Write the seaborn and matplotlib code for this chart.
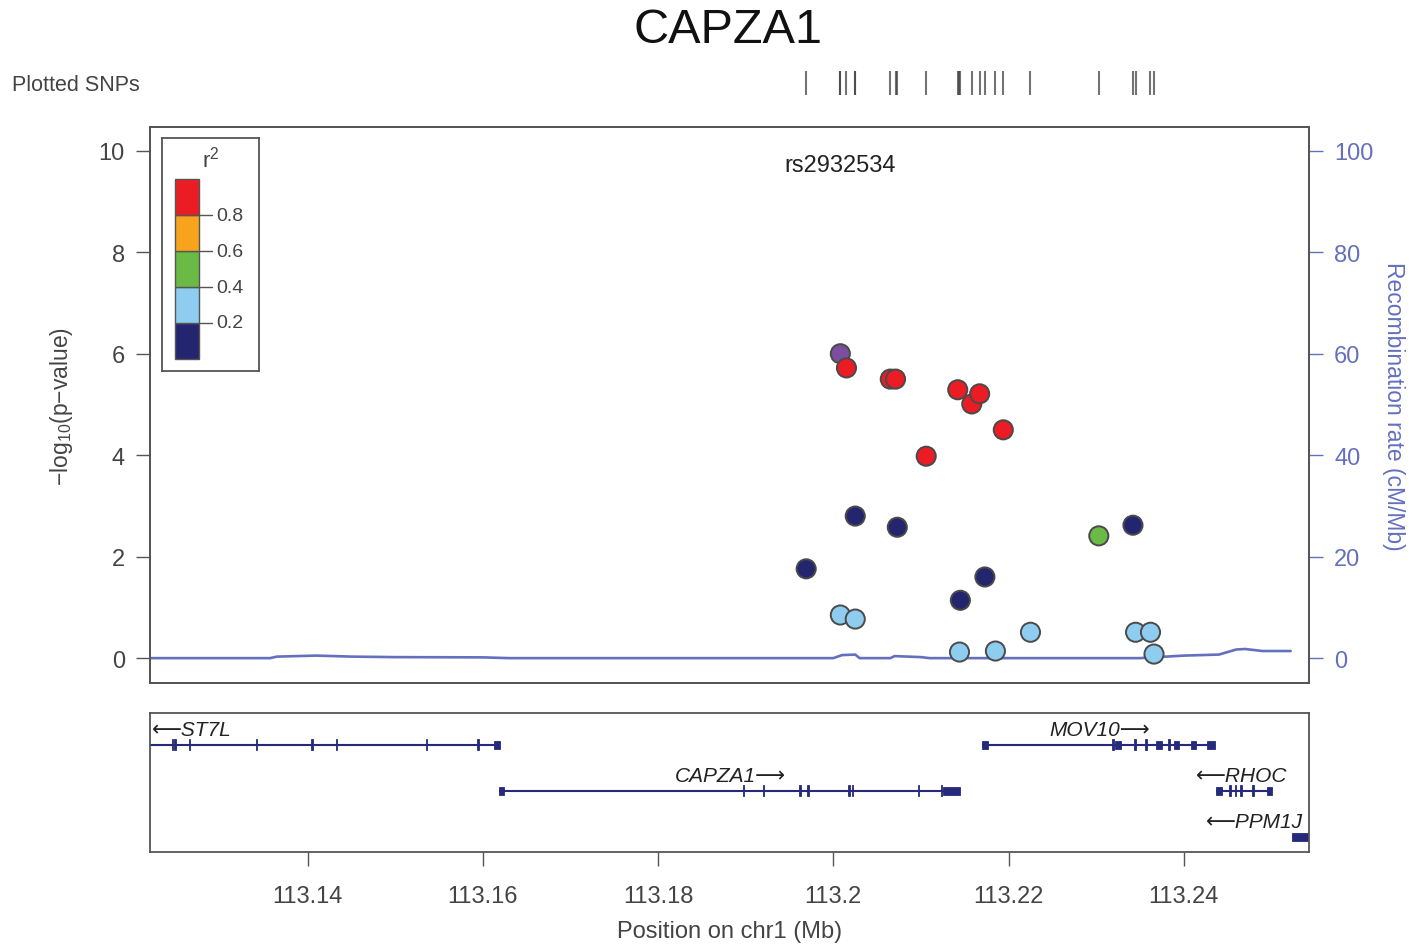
import numpy as np
import pandas as pd
import matplotlib
matplotlib.use("Agg")
import matplotlib.pyplot as plt
from matplotlib.patches import Rectangle
import seaborn as sns

sns.set_theme(style="white")
plt.rcParams['font.family'] = ['Liberation Sans', 'DejaVu Sans']
plt.rcParams['mathtext.fontset'] = 'custom'
plt.rcParams['mathtext.rm'] = 'Liberation Sans'
plt.rcParams['mathtext.it'] = 'Liberation Sans:italic'

# ---------------- data ----------------
snp_pos = [113.2008, 113.2015, 113.2065, 113.2071, 113.2142, 113.2158, 113.2167,
           113.2194, 113.2106, 113.2025, 113.2073, 113.1969, 113.2173, 113.2145,
           113.2342, 113.2303, 113.2008, 113.2025, 113.2144, 113.2185, 113.2225,
           113.2345, 113.2362, 113.2366]
snp_logp = [6.00, 5.72, 5.50, 5.50, 5.29, 5.01, 5.21,
            4.50, 3.98, 2.80, 2.58, 1.76, 1.60, 1.14,
            2.62, 2.41, 0.85, 0.77, 0.12, 0.14, 0.51,
            0.51, 0.51, 0.08]
snp_r2 = ["lead", "0.8-1", "0.8-1", "0.8-1", "0.8-1", "0.8-1", "0.8-1",
          "0.8-1", "0.8-1", "0-0.2", "0-0.2", "0-0.2", "0-0.2", "0-0.2",
          "0-0.2", "0.4-0.6", "0.2-0.4", "0.2-0.4", "0.2-0.4", "0.2-0.4", "0.2-0.4",
          "0.2-0.4", "0.2-0.4", "0.2-0.4"]
lead_snp = "rs2932534"

recomb_pos = [113.1220, 113.1357, 113.1365, 113.1410, 113.1450, 113.1500, 113.1600,
              113.1630, 113.2000, 113.2010, 113.2025, 113.2030, 113.2065, 113.2070,
              113.2100, 113.2110, 113.2350, 113.2370, 113.2400, 113.2440, 113.2460,
              113.2470, 113.2490, 113.2522]
recomb_rate = [0.0, 0.0, 0.3, 0.5, 0.3, 0.2, 0.15,
               0.0, 0.0, 0.6, 0.7, 0.0, 0.0, 0.4,
               0.2, 0.0, 0.0, 0.2, 0.5, 0.7, 1.7,
               1.8, 1.4, 1.4]

ld_bins = [0.0, 0.2, 0.4, 0.6, 0.8, 1.0]
ld_labels = ["0-0.2", "0.2-0.4", "0.4-0.6", "0.6-0.8", "0.8-1"]
ld_colors = ["#23266F", "#8ECDF0", "#6BBA45", "#F7A41C", "#EC1C24"]
lead_color = "#7C4E9F"

gene_names = ["ST7L", "CAPZA1", "MOV10", "RHOC", "PPM1J"]
gene_strand = ["-", "+", "+", "-", "-"]
gene_row = [0, 1, 0, 1, 2]
gene_start = [113.1000, 113.1618, 113.2170, 113.2437, 113.2523]
gene_end = [113.1620, 113.2145, 113.2436, 113.2501, 113.2600]
gene_label_x = [113.1222, 113.1883, 113.2304, 113.2466, 113.2536]
gene_exons = [
    [(113.1245, 113.1246), (113.1248, 113.1249), (113.1264, 113.1266), (113.1341, 113.1342),
     (113.1404, 113.1406), (113.1432, 113.1434), (113.1535, 113.1536), (113.1593, 113.1595),
     (113.1613, 113.1620)],
    [(113.1618, 113.1624), (113.1897, 113.1898), (113.1920, 113.1921), (113.1961, 113.1963),
     (113.1970, 113.1972), (113.2017, 113.2019), (113.2021, 113.2023), (113.2097, 113.2098),
     (113.2123, 113.2124), (113.2125, 113.2145)],
    [(113.2170, 113.2177), (113.2318, 113.2320), (113.2322, 113.2328), (113.2343, 113.2345),
     (113.2356, 113.2358), (113.2368, 113.2375), (113.2382, 113.2384), (113.2389, 113.2395),
     (113.2408, 113.2414), (113.2426, 113.2436)],
    [(113.2437, 113.2444), (113.2452, 113.2454), (113.2458, 113.2460), (113.2464, 113.2466),
     (113.2478, 113.2480), (113.2495, 113.2501)],
    [(113.2523, 113.2545)],
]

x_ticks = [113.14, 113.16, 113.18, 113.2, 113.22, 113.24]
x_ticklabels = ["113.14", "113.16", "113.18", "113.2", "113.22", "113.24"]
y_ticks = [0, 2, 4, 6, 8, 10]
y2_ticks = [0, 20, 40, 60, 80, 100]

XLIM = (113.1220, 113.2543)
YLIM = (-0.49, 10.47)

df = pd.DataFrame({"pos": snp_pos, "logp": snp_logp, "r2": snp_r2})
rdf = pd.DataFrame({"pos": recomb_pos, "rate": recomb_rate})

grey = "#555555"
txt = "#444444"
blue = "#6470BE"
gene_col = "#262A7A"

fig = plt.figure(figsize=(14.12, 9.45), dpi=100)

# ------------- main association panel -------------
ax = fig.add_axes([0.1062, 0.2762, 0.8209, 0.5884])
ax2 = ax.twinx()
ax.set_zorder(ax2.get_zorder() + 1)
ax.patch.set_visible(False)

sns.lineplot(data=rdf, x="pos", y="rate", ax=ax2, color=blue, linewidth=1.9)
ax2.set_ylim(YLIM[0] * 10, YLIM[1] * 10)
ax2.set_yticks(y2_ticks)
ax2.tick_params(axis="y", colors=blue, labelcolor=blue, labelsize=17, length=10,
                width=1, direction="out", pad=8)
ax2.set_ylabel("Recombination rate (cM/Mb)", color=blue, fontsize=16.5, rotation=270,
               va="center", ha="center")
ax2.yaxis.set_label_coords(1.073, 0.50)

palette = dict(zip(ld_labels, ld_colors))
palette["lead"] = lead_color
sns.scatterplot(data=df, x="pos", y="logp", hue="r2", palette=palette, ax=ax,
                s=190, edgecolor="#4a4a4a", linewidth=1.4, legend=False, zorder=3)

ax.set_xlim(*XLIM)
ax2.set_xlim(*XLIM)
ax.set_ylim(*YLIM)
ax.set_yticks(y_ticks)
ax.set_xticks([])
ax.set_xlabel("")
ax.set_ylabel("−log$_{10}$(p−value)", fontsize=16.5, color=txt, va="center", ha="center")
ax.yaxis.set_label_coords(-0.076, 0.50)
ax.tick_params(axis="y", colors=grey, labelcolor=txt, labelsize=17, length=10, width=1,
               direction="out", pad=8, left=True)
for a in (ax, ax2):
    for s in a.spines.values():
        s.set_color(grey)
        s.set_linewidth(1.3)

lead_i = snp_r2.index("lead")
ax.text(snp_pos[lead_i], 9.72, lead_snp, ha="center", va="center", fontsize=17, color="#222222")

# ------------- LD legend -------------
lax = fig.add_axes([0.1147, 0.6063, 0.0687, 0.2466])
lax.set_xlim(0, 1)
lax.set_ylim(-0.067, 1.228)
for i in range(len(ld_labels)):
    lax.add_patch(Rectangle((0.134, ld_bins[i]), 0.247, ld_bins[i + 1] - ld_bins[i],
                            facecolor=ld_colors[i], edgecolor="#555555", linewidth=1.0))
for b in ld_bins[1:-1]:
    lax.plot([0.381, 0.52], [b, b], color="#555555", linewidth=1.0)
    lax.text(0.56, b, f"{b:.1f}", ha="left", va="center", fontsize=14, color=txt)
lax.text(0.5, 1.115, "r$^2$", ha="center", va="center", fontsize=16, color=txt)
lax.set_xticks([])
lax.set_yticks([])
for s in lax.spines.values():
    s.set_color(grey)
    s.set_linewidth(1.3)

# ------------- plotted SNPs rug -------------
rax = fig.add_axes([0.1062, 0.8984, 0.8209, 0.0254])
rax.vlines(snp_pos, 0, 1, color="#444444", linewidth=1.5, alpha=0.75)
rax.set_xlim(*XLIM)
rax.set_ylim(0, 1)
rax.axis("off")
fig.text(0.0085, 0.910, "Plotted SNPs", fontsize=15.5, color=txt, ha="left", va="center")

# ------------- title -------------
fig.text(0.5156, 0.968, "CAPZA1", fontsize=35, ha="center", va="center", color="#111111")

# ------------- gene track -------------
gax = fig.add_axes([0.1062, 0.0974, 0.8209, 0.1471])
gax.set_xlim(*XLIM)
gax.set_ylim(2.326, -0.696)
for name, strand, row, st, en, lx, exons in zip(gene_names, gene_strand, gene_row,
                                                  gene_start, gene_end, gene_label_x, gene_exons):
    gax.hlines(row, st, en, color=gene_col, linewidth=1.5)
    for (es, ee) in exons:
        w = ee - es
        h = 0.19 if w > 0.0004 else 0.24
        w = max(w, 0.00013)
        gax.add_patch(Rectangle((es, row - h / 2), w, h, facecolor=gene_col,
                                edgecolor=gene_col, linewidth=0.6))
    label = ("⟵" + name) if strand == "-" else (name + "⟶")
    if name == "ST7L":
        ha = "left"
    elif name == "PPM1J":
        ha = "right"
    else:
        ha = "center"
    gax.text(lx, row - 0.33, label, ha=ha, va="center", fontsize=15, style="italic",
             color="#222222")
gax.set_yticks([])
gax.set_xticks(x_ticks)
gax.set_xticklabels(x_ticklabels)
gax.tick_params(axis="x", colors=grey, labelcolor=txt, labelsize=17, length=10, width=1,
                direction="out", pad=14, bottom=True)
gax.set_xlabel("Position on chr1 (Mb)", fontsize=17, color=txt, labelpad=9)
for s in gax.spines.values():
    s.set_color(grey)
    s.set_linewidth(1.3)

fig.savefig("out.png", dpi=100)
